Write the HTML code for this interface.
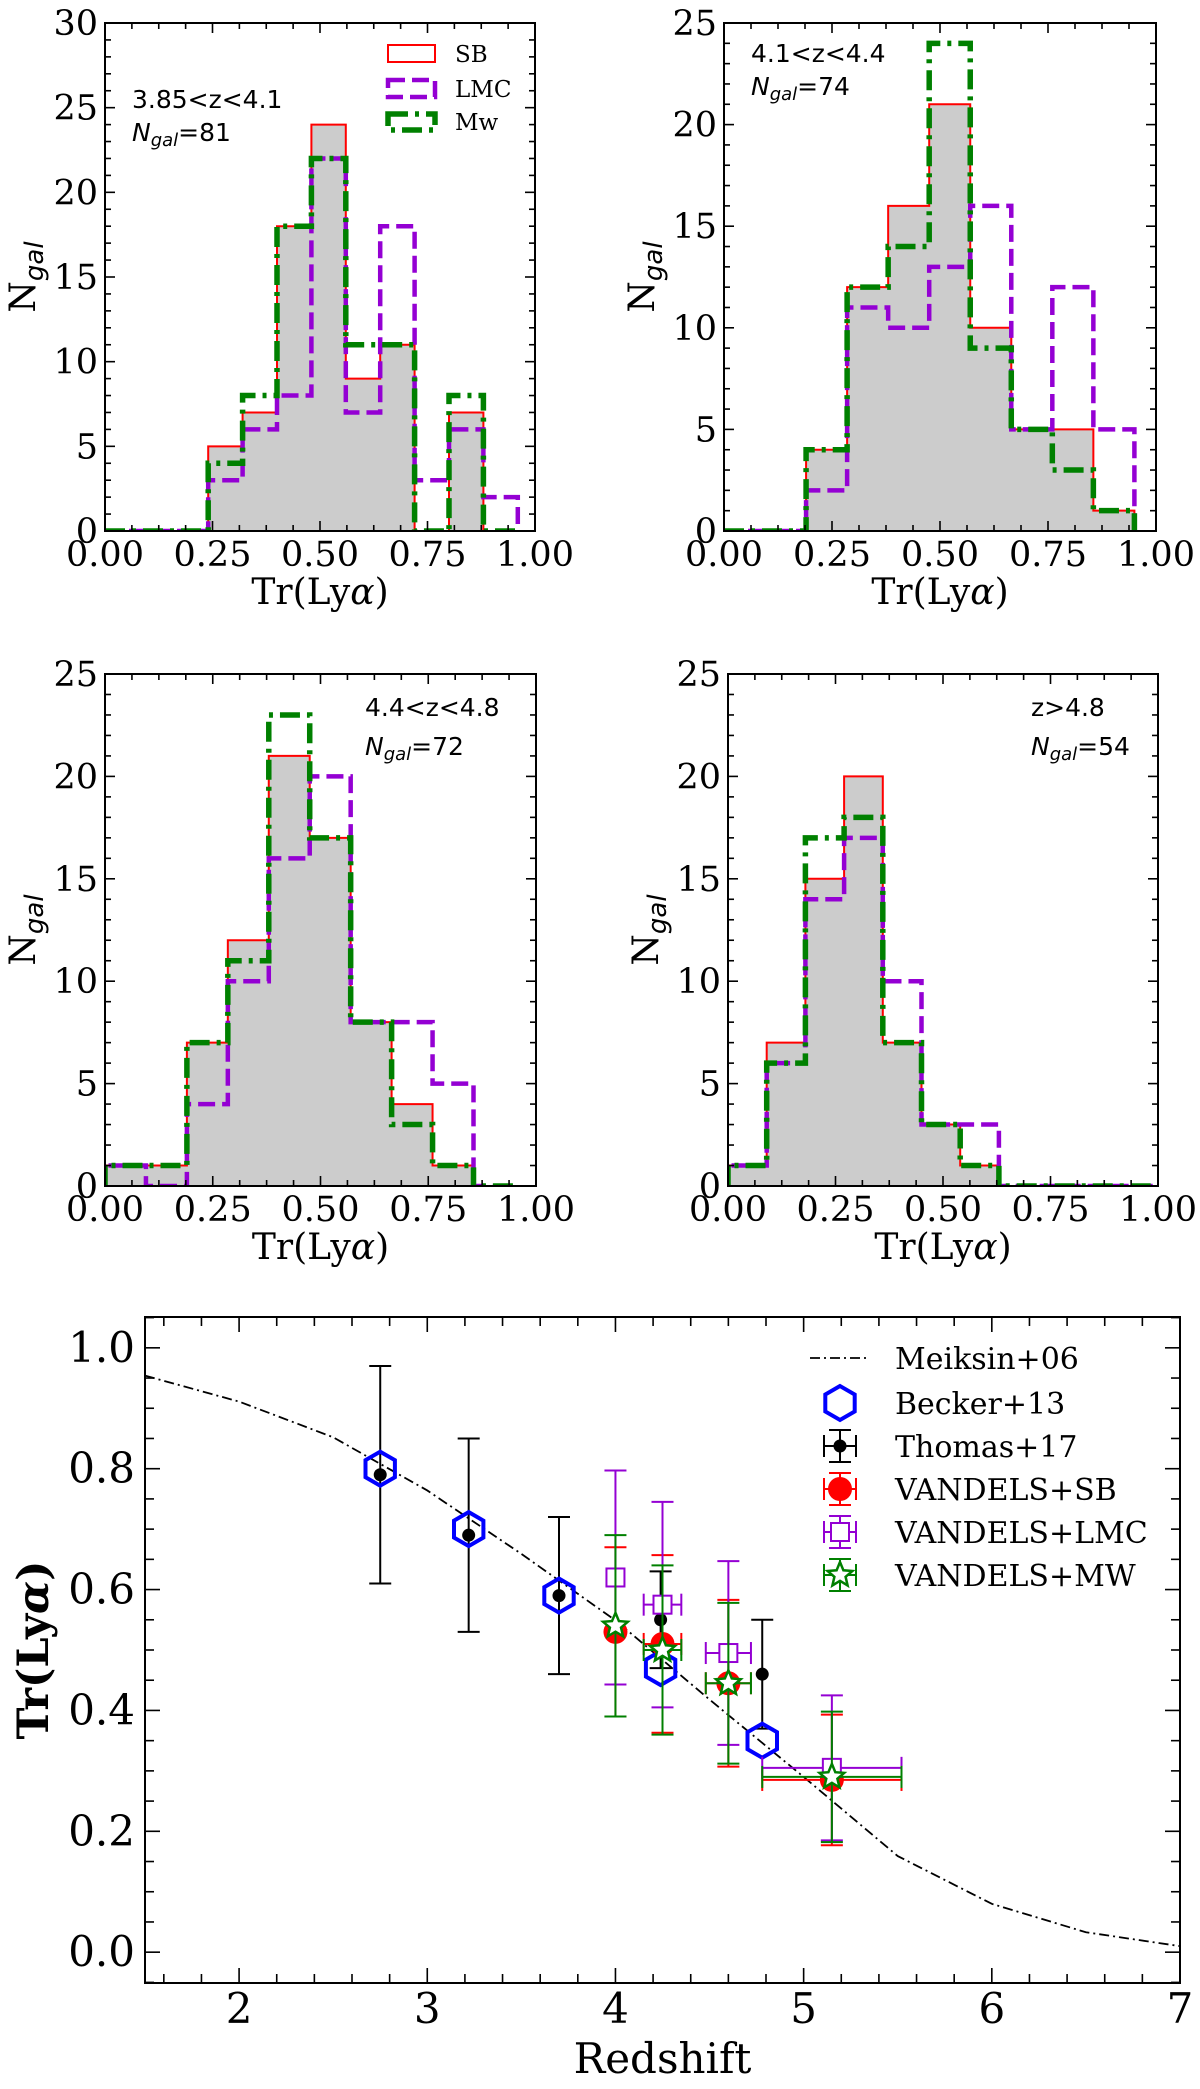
<!DOCTYPE html>
<html><head><meta charset="utf-8">
<style>
html,body{margin:0;padding:0;background:#fff;}
svg{display:block;}
.tk{font-family:"DejaVu Serif","Liberation Serif",serif;fill:#000;}
.an{font-family:"DejaVu Sans","Liberation Sans",sans-serif;fill:#000;}
</style></head>
<body>
<svg id="fig" xmlns="http://www.w3.org/2000/svg" width="1200" height="2089" viewBox="0 0 1200 2089"></svg>
<script>
// ---- Histogram data ----
const p1BinWidth = 0.08;
const p1SB  = [0,0,0,5,7,18,24,9,11,0,7,0];
const p1LMC = [0,0,0,3,6,8,22,7,18,3,6,2];
const p1MW  = [0,0,0,4,8,18,22,11,11,0,8,0];
const p2BinWidth = 0.095;
const p2SB  = [0,0,4,12,16,21,10,5,5,1];
const p2LMC = [0,0,2,11,10,13,16,5,12,5];
const p2MW  = [0,0,4,12,14,24,9,5,3,1];
const p3BinWidth = 0.095;
const p3SB  = [1,1,7,12,21,17,8,4,1,0];
const p3LMC = [1,0,4,10,16,20,8,8,5,0];
const p3MW  = [1,1,7,11,23,17,8,3,1,0];
const p4BinWidth = 0.09;
const p4SB  = [1,7,15,20,7,3,1,0,0,0,0];
const p4LMC = [1,6,14,17,10,3,3,0,0,0,0];
const p4MW  = [1,6,17,18,7,3,1,0,0,0,0];
const histXTicks = ["0.00","0.25","0.50","0.75","1.00"];
const hist1YTicks = ["0","5","10","15","20","25","30"];
const histYTicks = ["0","5","10","15","20","25"];
const panelLabels = ["3.85<z<4.1","4.1<z<4.4","4.4<z<4.8","z>4.8"];
const panelNgal = ["81","74","72","54"];

// ---- Redshift evolution data ----
const meiksinZ = [1.5,2,2.5,3,3.5,4,4.5,5,5.5,6,6.5,7];
const meiksinT = [0.954,0.911,0.852,0.764,0.659,0.549,0.418,0.29,0.159,0.08,0.033,0.01];
const beckerZ = [2.75,3.22,3.7,4.24,4.78];
const beckerT = [0.80,0.70,0.59,0.47,0.35];
const thomasZ = [2.75,3.22,3.7,4.24,4.78];
const thomasT = [0.79,0.69,0.59,0.55,0.46];
const thomasErr = [0.18,0.16,0.13,0.08,0.09];
const vandZ = [4.0,4.25,4.6,5.15];
const vandZerr = [0.0,0.1,0.12,0.37];
const sbT = [0.53,0.51,0.445,0.285];
const sbErr = [0.14,0.147,0.138,0.108];
const lmcT = [0.62,0.575,0.495,0.305];
const lmcErr = [0.177,0.17,0.152,0.12];
const mwT = [0.54,0.50,0.445,0.29];
const mwErr = [0.15,0.14,0.133,0.108];
const zTicks = ["2","3","4","5","6","7"];
const tTicks = ["0.0","0.2","0.4","0.6","0.8","1.0"];

const NS="http://www.w3.org/2000/svg";
const fig=document.getElementById('fig');
function el(tag,attrs,parent){const e=document.createElementNS(NS,tag);for(const k in attrs)e.setAttribute(k,attrs[k]);(parent||fig).appendChild(e);return e;}

function axesFrame(g,L,R,T,B,xs,ys,xmin,xmax,xmaj,xminr,ymin,ymax,ymaj,yminr,majLen,minLen){
  const tg=el('g',{stroke:'#000','stroke-width':1.6},g);
  
  
  const eps=1e-9;
  for(let v=Math.ceil(xmin/xminr-eps)*xminr; v<=xmax+eps; v+=xminr){
    const isMaj=Math.abs(v/xmaj-Math.round(v/xmaj))<1e-6; const len=isMaj?majLen:minLen; const x=xs(v);
    el('line',{x1:x,x2:x,y1:B,y2:B-len},tg); el('line',{x1:x,x2:x,y1:T,y2:T+len},tg);
  }
  for(let v=Math.ceil(ymin/yminr-eps)*yminr; v<=ymax+eps; v+=yminr){
    const isMaj=Math.abs(v/ymaj-Math.round(v/ymaj))<1e-6; const len=isMaj?majLen:minLen; const y=ys(v);
    el('line',{y1:y,y2:y,x1:L,x2:L+len},tg); el('line',{y1:y,y2:y,x1:R,x2:R-len},tg);
  }
  const fr=el('rect',{x:L,y:T,width:R-L,height:B-T,fill:'none',stroke:'#000','stroke-width':2},g);
  
  
}

function stepPath(vals,bw,xs,ys){
  let d='M'+xs(0)+','+ys(0);
  for(let i=0;i<vals.length;i++){d+=' V'+ys(vals[i])+' H'+xs((i+1)*bw);}
  d+=' V'+ys(0);
  return d;
}

function histPanel(idx,L,R,T,B,ymax,yt,bw,sb,lmc,mw,legend,annX,annY1,annY2){
  const g=el('g',{});
  
  
  const xs=v=>L+(R-L)*v; const ys=v=>B-(B-T)*v/ymax;
  const cp=el('clipPath',{id:'cp'+idx},g); el('rect',{x:L,y:T,width:R-L,height:B-T},cp);
  const dg=el('g',{'clip-path':'url(#cp'+idx+')'},g);
  const fill=el('path',{d:stepPath(sb,bw,xs,ys)+' Z',fill:'#cccccc',stroke:'none'},dg);
  
  
  const sbl=el('path',{d:stepPath(sb,bw,xs,ys),fill:'none',stroke:'#ff0000','stroke-width':2},dg);
  
  
  const lm=el('path',{d:stepPath(lmc,bw,xs,ys),fill:'none',stroke:'#9400d3','stroke-width':4.5,'stroke-dasharray':'17,7'},dg);
  
  
  const mwp=el('path',{d:stepPath(mw,bw,xs,ys),fill:'none',stroke:'#008000','stroke-width':5.5,'stroke-dasharray':'20,7,4,7'},dg);
  
  
  axesFrame(g,L,R,T,B,xs,ys,0,1,0.25,0.0625,0,ymax,5,1,10,6);
  histXTicks.forEach((t,i)=>{const v=i*0.25;const tx=el('text',{x:xs(v),y:B+35,'font-size':35,'text-anchor':'middle',class:'tk'},g);tx.textContent=t;
    
    });
  yt.forEach((t,i)=>{const v=i*5;const tx=el('text',{x:L-7,y:ys(v)+12,'font-size':35,'text-anchor':'end',class:'tk'},g);tx.textContent=t;
    
    });
  const xl=el('text',{x:(L+R)/2,y:B+73,'font-size':36,'text-anchor':'middle',class:'tk'},g);
  xl.innerHTML='Tr(Ly<tspan font-style="italic">α</tspan>)';
  
  
  const yl=el('text',{transform:'translate('+(L-70)+','+((T+B)/2)+') rotate(-90)','font-size':36,'text-anchor':'middle',class:'tk'},g);
  yl.innerHTML='N<tspan class="an" font-style="italic" font-size="26" dy="8">gal</tspan>';
  
  
  const a1=el('text',{x:annX,y:annY1,'font-size':25,class:'an'},g); a1.textContent=panelLabels[idx];
  
  
  const a2=el('text',{x:annX,y:annY2,'font-size':25,class:'an'},g);
  a2.innerHTML='<tspan font-style="italic">N</tspan><tspan font-style="italic" font-size="18" dy="5">gal</tspan><tspan dy="-5">='+panelNgal[idx]+'</tspan>';
  
  
  if(legend){
    const lg=el('g',{},g);
    
    
    el('rect',{x:388,y:45,width:47,height:17,fill:'none',stroke:'#ff0000','stroke-width':2},lg);
    el('rect',{x:388,y:80,width:47,height:17,fill:'none',stroke:'#9400d3','stroke-width':4.5,'stroke-dasharray':'17,7'},lg);
    el('rect',{x:388,y:114,width:47,height:16,fill:'none',stroke:'#008000','stroke-width':5.5,'stroke-dasharray':'20,7,4,7'},lg);
    [['SB',62],['LMC',97],['Mw',130]].forEach(([t,y])=>{const tx=el('text',{x:455,y:y,'font-size':23,class:'tk'},lg);tx.textContent=t;
      
      });
  }
}

histPanel(0,105,535,23,531,30,hist1YTicks,p1BinWidth,p1SB,p1LMC,p1MW,true,132,108,141);
histPanel(1,724,1156,23,531,25,histYTicks,p2BinWidth,p2SB,p2LMC,p2MW,false,751,62,95);
histPanel(2,105,536,674,1186,25,histYTicks,p3BinWidth,p3SB,p3LMC,p3MW,false,365,716,755);
histPanel(3,728,1158,674,1186,25,histYTicks,p4BinWidth,p4SB,p4LMC,p4MW,false,1031,716,755);

// ---- Bottom panel ----
(function(){
  const L=145,R=1180,T=1317,B=1983;
  const xmin=1.5,xmax=7,ymin=-0.051,ymax=1.051;
  const xs=v=>L+(R-L)*(v-xmin)/(xmax-xmin);
  const ys=v=>B-(B-T)*(v-ymin)/(ymax-ymin);
  const g=el('g',{});
  
  
  const cp=el('clipPath',{id:'cpb'},g); el('rect',{x:L,y:T,width:R-L,height:B-T},cp);
  const dg=el('g',{'clip-path':'url(#cpb)'},g);
  let d=''; meiksinZ.forEach((z,i)=>{d+=(i?' L':'M')+xs(z)+','+ys(meiksinT[i]);});
  const mk=el('path',{d:d,fill:'none',stroke:'#000','stroke-width':1.8,'stroke-dasharray':'10,4,2,4'},dg);
  
  
  function errbar(parent,x,y,ey,ex,color,cap,w){
    el('line',{x1:xs(x),x2:xs(x),y1:ys(y-ey),y2:ys(y+ey),stroke:color,'stroke-width':w},parent);
    el('line',{x1:xs(x)-cap,x2:xs(x)+cap,y1:ys(y-ey),y2:ys(y-ey),stroke:color,'stroke-width':w},parent);
    el('line',{x1:xs(x)-cap,x2:xs(x)+cap,y1:ys(y+ey),y2:ys(y+ey),stroke:color,'stroke-width':w},parent);
    if(ex>0){
      el('line',{x1:xs(x-ex),x2:xs(x+ex),y1:ys(y),y2:ys(y),stroke:color,'stroke-width':w},parent);
      el('line',{x1:xs(x-ex),x2:xs(x-ex),y1:ys(y)-cap,y2:ys(y)+cap,stroke:color,'stroke-width':w},parent);
      el('line',{x1:xs(x+ex),x2:xs(x+ex),y1:ys(y)-cap,y2:ys(y)+cap,stroke:color,'stroke-width':w},parent);
    }
  }
  function hexPts(cx,cy,r){let p=[];for(let k=0;k<6;k++){const a=Math.PI/2+k*Math.PI/3;p.push((cx+r*Math.cos(a)).toFixed(1)+','+(cy-r*Math.sin(a)).toFixed(1));}return p.join(' ');}
  function starPts(cx,cy,r){let p=[];for(let k=0;k<10;k++){const rr=k%2?r*0.45:r;const a=Math.PI/2+k*Math.PI/5;p.push((cx+rr*Math.cos(a)).toFixed(1)+','+(cy-rr*Math.sin(a)).toFixed(1));}return p.join(' ');}
  thomasZ.forEach((z,i)=>{const tg=el('g',{},dg);
    
    
    errbar(tg,z,thomasT[i],thomasErr[i],0,'#000',11,2);});
  beckerZ.forEach((z,i)=>{const h=el('polygon',{points:hexPts(xs(z),ys(beckerT[i]),17),fill:'none',stroke:'#0000ff','stroke-width':4},dg);
    
    });
  thomasZ.forEach((z,i)=>{const c=el('circle',{cx:xs(z),cy:ys(thomasT[i]),r:6.5,fill:'#000'},dg);
    
    });
  vandZ.forEach((z,i)=>{const sg=el('g',{},dg);
    
    
    errbar(sg,z,sbT[i],sbErr[i],vandZerr[i],'#ff0000',11,2);
    el('circle',{cx:xs(z),cy:ys(sbT[i]),r:12,fill:'#ff0000'},sg);});
  vandZ.forEach((z,i)=>{const sg=el('g',{},dg);
    
    
    errbar(sg,z,lmcT[i],lmcErr[i],vandZerr[i],'#9400d3',11,2);
    el('rect',{x:xs(z)-9,y:ys(lmcT[i])-9,width:18,height:18,fill:'#fff',stroke:'#9400d3','stroke-width':2},sg);});
  vandZ.forEach((z,i)=>{const sg=el('g',{},dg);
    
    
    errbar(sg,z,mwT[i],mwErr[i],vandZerr[i],'#008000',11,2);
    el('polygon',{points:starPts(xs(z),ys(mwT[i]),13),fill:'#fff',stroke:'#008000','stroke-width':2.5},sg);});
  axesFrame(g,L,R,T,B,xs,ys,xmin,xmax,1,0.2,ymin,ymax,0.2,0.05,15,9);
  zTicks.forEach((t)=>{const tx=el('text',{x:xs(+t),y:B+40,'font-size':42,'text-anchor':'middle',class:'tk'},g);tx.textContent=t;
    
    });
  tTicks.forEach((t)=>{const tx=el('text',{x:L-10,y:ys(+t)+14,'font-size':42,'text-anchor':'end',class:'tk'},g);tx.textContent=t;
    
    });
  const xl=el('text',{x:(L+R)/2,y:B+90,'font-size':42,'text-anchor':'middle',class:'tk'},g);xl.textContent='Redshift';
  
  
  const yl=el('text',{transform:'translate(48,'+((T+B)/2)+') rotate(-90)','font-size':43,'font-weight':'bold','text-anchor':'middle',class:'tk'},g);
  yl.innerHTML='Tr(Ly<tspan font-style="italic">α</tspan>)';
  
  
  const lg=el('g',{},g);
  
  
  const mx=840, tx0=895, rows=[1358,1403,1446,1489,1532,1575];
  el('line',{x1:mx-30,x2:mx+30,y1:rows[0],y2:rows[0],stroke:'#000','stroke-width':1.8,'stroke-dasharray':'10,4,2,4'},lg);
  el('polygon',{points:hexPts(mx,rows[1],17),fill:'none',stroke:'#0000ff','stroke-width':4},lg);
  function legErr(y,color){el('line',{x1:mx,x2:mx,y1:y-16,y2:y+16,stroke:color,'stroke-width':2},lg);
    el('line',{x1:mx-11,x2:mx+11,y1:y-16,y2:y-16,stroke:color,'stroke-width':2},lg);
    el('line',{x1:mx-11,x2:mx+11,y1:y+16,y2:y+16,stroke:color,'stroke-width':2},lg);
    el('line',{x1:mx-16,x2:mx+16,y1:y,y2:y,stroke:color,'stroke-width':2},lg);
    el('line',{x1:mx-16,x2:mx-16,y1:y-11,y2:y+11,stroke:color,'stroke-width':2},lg);
    el('line',{x1:mx+16,x2:mx+16,y1:y-11,y2:y+11,stroke:color,'stroke-width':2},lg);}
  legErr(rows[2],'#000'); el('circle',{cx:mx,cy:rows[2],r:6.5,fill:'#000'},lg);
  legErr(rows[3],'#ff0000'); el('circle',{cx:mx,cy:rows[3],r:12,fill:'#ff0000'},lg);
  legErr(rows[4],'#9400d3'); el('rect',{x:mx-9,y:rows[4]-9,width:18,height:18,fill:'#fff',stroke:'#9400d3','stroke-width':2},lg);
  legErr(rows[5],'#008000'); el('polygon',{points:starPts(mx,rows[5],13),fill:'#fff',stroke:'#008000','stroke-width':2.5},lg);
  ['Meiksin+06','Becker+13','Thomas+17','VANDELS+SB','VANDELS+LMC','VANDELS+MW'].forEach((t,i)=>{
    const tt=el('text',{x:tx0,y:rows[i]+11,'font-size':30,class:'tk'},lg);tt.textContent=t;
    
    });
})();
</script>
</body></html>
